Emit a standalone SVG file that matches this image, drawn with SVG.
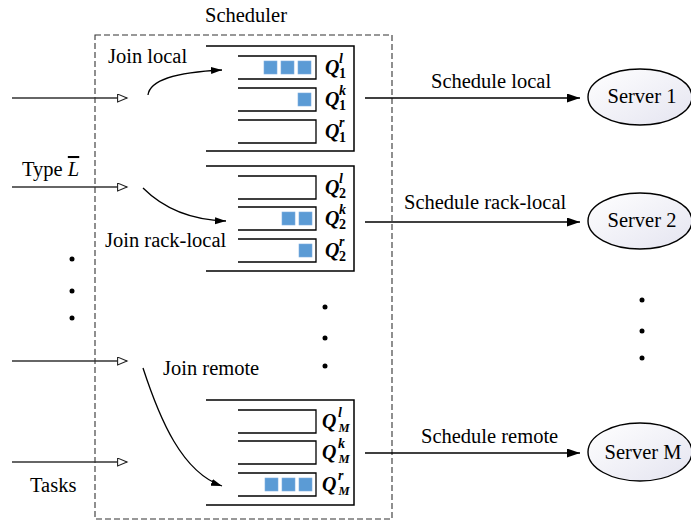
<svg xmlns="http://www.w3.org/2000/svg" width="691" height="523" viewBox="0 0 691 523">
<style>
.t{font-family:"Liberation Serif","Times New Roman",serif;font-size:20.5px;fill:#000}
.q{font-family:"Liberation Serif","Times New Roman",serif;font-weight:bold;font-style:italic;fill:#000}
.qb{font-size:20px}
.qs{font-size:14px}
.qm{font-size:12.5px}
.n{font-style:normal}
.box{fill:none;stroke:#000;stroke-width:1.5}
.qu{fill:none;stroke:#000;stroke-width:1.3}
.sq{fill:#5B9BD5;stroke:#7fb0e0;stroke-width:0.6}
.in{fill:none;stroke:#333;stroke-width:1.3;marker-end:url(#open)}
.out{fill:none;stroke:#000;stroke-width:1.3;marker-end:url(#solid)}
.cv{fill:none;stroke:#000;stroke-width:1.3;marker-end:url(#solid2)}
.srv{fill:url(#g);stroke:#000;stroke-width:1.4}
.dot{fill:#000}
</style>
<defs>
<marker id="open" markerUnits="userSpaceOnUse" markerWidth="12" markerHeight="10" refX="10" refY="4.5" orient="auto">
<path d="M0.6,0.6 L10,4.5 L0.6,8.4 Z" fill="#fff" stroke="#222" stroke-width="1.1"/>
</marker>
<marker id="solid" markerUnits="userSpaceOnUse" markerWidth="14" markerHeight="10" refX="13" refY="4.5" orient="auto">
<path d="M0,0 L13,4.5 L0,9 Z" fill="#000"/>
</marker>
<marker id="solid2" markerUnits="userSpaceOnUse" markerWidth="12" markerHeight="8" refX="11" refY="3.5" orient="auto">
<path d="M0,0 L11,3.5 L0,7 Z" fill="#000"/>
</marker>
<linearGradient id="g" x1="0" y1="0" x2="1" y2="1">
<stop offset="0" stop-color="#ffffff"/>
<stop offset="1" stop-color="#e4e4f0"/>
</linearGradient>
</defs>

<g id="scheduler">
<rect x="95" y="35" width="297" height="484" fill="none" stroke="#333" stroke-width="1.1" stroke-dasharray="6 3"/>
<text class="t" x="205" y="22">Scheduler</text>
</g>

<g id="queues-1">
<path class="box" d="M206,46 H354 V151 H206"/>
<path class="qu" d="M238,56 H316 V79 H238"/>
<path class="qu" d="M238,88 H316 V111 H238"/>
<path class="qu" d="M238,120 H316 V143 H238"/>
<rect class="sq" x="264" y="61" width="13" height="13"/>
<rect class="sq" x="281" y="61" width="13" height="13"/>
<rect class="sq" x="298" y="61" width="13" height="13"/>
<rect class="sq" x="298" y="93" width="13" height="13"/>
<text class="q qb" x="325" y="74">Q</text><text class="q qs" x="339" y="63">l</text><text class="q qs n" x="339" y="78">1</text>
<text class="q qb" x="325" y="106">Q</text><text class="q qs" x="339" y="95">k</text><text class="q qs n" x="339" y="110">1</text>
<text class="q qb" x="325" y="138">Q</text><text class="q qs" x="339" y="127">r</text><text class="q qs n" x="339" y="142">1</text>
</g>

<g id="queues-2">
<path class="box" d="M206,166 H354 V271 H206"/>
<path class="qu" d="M238,176 H316 V199 H238"/>
<path class="qu" d="M238,207 H316 V230 H238"/>
<path class="qu" d="M238,239 H316 V262 H238"/>
<rect class="sq" x="282" y="212" width="13" height="13"/>
<rect class="sq" x="299" y="212" width="13" height="13"/>
<rect class="sq" x="299" y="244" width="13" height="13"/>
<text class="q qb" x="325" y="194">Q</text><text class="q qs" x="339" y="183">l</text><text class="q qs n" x="339" y="198">2</text>
<text class="q qb" x="325" y="225">Q</text><text class="q qs" x="339" y="214">k</text><text class="q qs n" x="339" y="229">2</text>
<text class="q qb" x="325" y="257">Q</text><text class="q qs" x="339" y="246">r</text><text class="q qs n" x="339" y="261">2</text>
</g>

<g id="queues-M">
<path class="box" d="M206,400 H354 V505 H206"/>
<path class="qu" d="M238,410 H316 V433 H238"/>
<path class="qu" d="M238,441 H316 V464 H238"/>
<path class="qu" d="M238,473 H316 V496 H238"/>
<rect class="sq" x="265" y="478" width="13" height="13"/>
<rect class="sq" x="282" y="478" width="13" height="13"/>
<rect class="sq" x="299" y="478" width="13" height="13"/>
<text class="q qb" x="322" y="428">Q</text><text class="q qs" x="338" y="417">l</text><text class="q qm" x="338.5" y="432">M</text>
<text class="q qb" x="322" y="459">Q</text><text class="q qs" x="338" y="448">k</text><text class="q qm" x="338.5" y="463">M</text>
<text class="q qb" x="322" y="491">Q</text><text class="q qs" x="338" y="480">r</text><text class="q qm" x="338.5" y="495">M</text>
</g>

<g id="server-1">
<ellipse class="srv" cx="640" cy="97" rx="52" ry="28"/>
<text class="t" x="642" y="103" text-anchor="middle">Server 1</text>
</g>
<g id="server-2">
<ellipse class="srv" cx="640" cy="221" rx="52" ry="28"/>
<text class="t" x="642" y="227" text-anchor="middle">Server 2</text>
</g>
<g id="server-M">
<ellipse class="srv" cx="640" cy="452" rx="52" ry="29"/>
<text class="t" x="643" y="459" text-anchor="middle">Server M</text>
</g>

<g id="connectors">
<line class="in" x1="12" y1="98" x2="127" y2="98"/>
<line class="in" x1="12" y1="187" x2="127" y2="187"/>
<line class="in" x1="12" y1="361" x2="127" y2="361"/>
<line class="in" x1="12" y1="462" x2="127" y2="462"/>
<path class="cv" d="M148,95 C150,79 180,72 222,70"/>
<path class="cv" d="M143,188 C163,208 190,220 226,221"/>
<path class="cv" d="M143,368 C160,420 182,472 222,486"/>
<line class="out" x1="365" y1="98" x2="580" y2="98"/>
<line class="out" x1="365" y1="222" x2="580" y2="222"/>
<line class="out" x1="365" y1="453" x2="580" y2="453"/>
</g>

<g id="labels">
<text class="t" x="22" y="176">Type <tspan font-style="italic" text-decoration="overline">L</tspan></text>
<text class="t" x="108" y="63">Join local</text>
<text class="t" x="105" y="247">Join rack-local</text>
<text class="t" x="163" y="375">Join remote</text>
<text class="t" x="30" y="492">Tasks</text>
<text class="t" x="431" y="88">Schedule local</text>
<text class="t" x="404" y="209">Schedule rack-local</text>
<text class="t" x="421" y="443">Schedule remote</text>
</g>

<g id="ellipsis">
<circle class="dot" cx="72" cy="259" r="2.5"/>
<circle class="dot" cx="72" cy="291" r="2.5"/>
<circle class="dot" cx="72" cy="318" r="2.5"/>
<circle class="dot" cx="325" cy="307" r="2.5"/>
<circle class="dot" cx="325" cy="338" r="2.5"/>
<circle class="dot" cx="325" cy="366" r="2.5"/>
<circle class="dot" cx="642" cy="300" r="2.5"/>
<circle class="dot" cx="642" cy="331" r="2.5"/>
<circle class="dot" cx="642" cy="358" r="2.5"/>
</g>
</svg>
